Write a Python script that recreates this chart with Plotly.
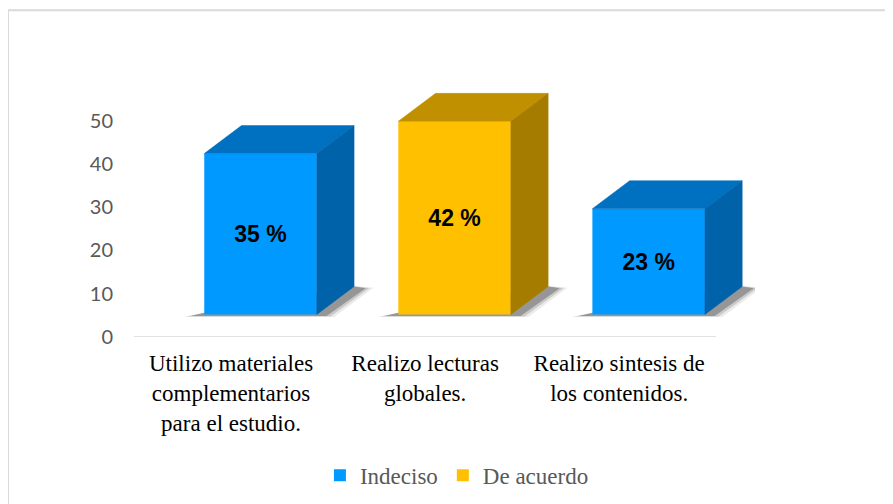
import plotly.graph_objects as go

# ---- data ----
categories = ["Utilizo materiales<br>complementarios<br>para el estudio.",
              "Realizo lecturas<br>globales.",
              "Realizo sintesis de<br>los contenidos."]
values = [35, 42, 23]
series = ["Indeciso", "De acuerdo", "Indeciso"]
labels = ["35 %", "42 %", "23 %"]
y_ticks = [0, 10, 20, 30, 40, 50]

# ---- style / pseudo-3D geometry ----
FLOOR = 5.2          # floor level of the bars (axis units)
SCALE = 1.0626       # visual height per value unit
OFFSET = -0.138      # left edge of front face relative to category
WIDTH = 0.58         # front face width
DX = 0.192           # depth offset x (category units)
DY = 6.47            # depth offset y (axis units)

colors = {
    "Indeciso": {"front": "#0099FF", "top": "#0070C0", "side": "#0062A8"},
    "De acuerdo": {"front": "#FFC000", "top": "#C09000", "side": "#A67C00"},
}

fig = go.Figure()

# front faces as bars (one trace per series for the legend)
for name in ["Indeciso", "De acuerdo"]:
    idx = [i for i, s in enumerate(series) if s == name]
    fig.add_trace(go.Bar(
        name=name,
        x=idx,
        y=[values[i] * SCALE for i in idx],
        base=FLOOR,
        width=WIDTH,
        offset=OFFSET,
        marker=dict(color=colors[name]["front"], line=dict(width=0)),
        text=[labels[i] for i in idx],
        textposition="inside",
        insidetextanchor="middle",
        textangle=0,
        textfont=dict(family="Liberation Sans, Arial", size=23, color="black", weight="bold"),
        hoverinfo="skip",
    ))

shapes = []
for i, v in enumerate(values):
    L = i + OFFSET
    R = L + WIDTH
    top = FLOOR + v * SCALE
    c = colors[series[i]]
    # top face
    fig.add_trace(go.Scatter(
        x=[L, R, R + DX, L + DX, L], y=[top, top, top + DY, top + DY, top],
        mode="lines", fill="toself", fillcolor=c["top"], cliponaxis=False,
        line=dict(color=c["top"], width=0.5), showlegend=False, hoverinfo="skip"))
    # side face
    fig.add_trace(go.Scatter(
        x=[R, R + DX, R + DX, R, R], y=[FLOOR, FLOOR + DY, top + DY, top, FLOOR],
        mode="lines", fill="toself", fillcolor=c["side"], cliponaxis=False,
        line=dict(color=c["side"], width=0.5), showlegend=False, hoverinfo="skip"))
    # floor shadow (layers for a soft look)
    for g, alpha in [(0.04, 0.08), (0.02, 0.14), (0.0, 0.25)]:
        p = [(L - 0.07 - g, FLOOR - 0.35 - g * 6),
             (R + 0.05 + g, FLOOR - 0.35 - g * 6),
             (R + DX + 0.06 + g, FLOOR + DY - 0.4 + g * 3),
             (R + DX, FLOOR + DY + g * 3),
             (L, FLOOR + 0.4)]
        path = "M " + " L ".join(f"{a},{b}" for a, b in p) + " Z"
        shapes.append(dict(type="path", path=path, xref="x", yref="y",
                           fillcolor=f"rgba(0,0,0,{alpha})", line=dict(width=0),
                           layer="below"))

# category axis line (only across the three categories)
shapes.append(dict(type="line", xref="x", yref="y", x0=-0.5, x1=2.5, y0=0, y1=0,
                   line=dict(color="#D9D9D9", width=1.5), layer="below"))

# outer chart border
shapes.append(dict(type="rect", xref="paper", yref="paper",
                   x0=-0.203, x1=1.25, y0=-0.69, y1=1.3016,
                   line=dict(color="#D9D9D9", width=2), fillcolor="rgba(0,0,0,0)",
                   layer="below"))

fig.update_layout(
    width=885, height=496,
    margin=dict(l=126, r=138, t=78, b=167, autoexpand=False),
    plot_bgcolor="white", paper_bgcolor="white",
    barmode="overlay",
    shapes=shapes,
    showlegend=True,
    legend=dict(orientation="h", x=0.52, xanchor="center", y=-0.551, yanchor="middle",
                font=dict(family="Liberation Serif, Times New Roman", size=23, color="#595959"),
                itemwidth=30, bgcolor="rgba(0,0,0,0)"),
    xaxis=dict(range=[-0.5, 2.7], tickvals=[0, 1, 2], ticktext=categories,
               showgrid=False, zeroline=False, showline=False,
               ticks="", ticklabelstandoff=10,
               tickfont=dict(family="Liberation Serif, Times New Roman", size=23, color="black")),
    yaxis=dict(range=[0, 58], tickvals=y_ticks, showgrid=False, zeroline=False,
               showline=False, ticks="", ticklabelstandoff=20,
               tickfont=dict(family="Lato, Calibri", size=20, color="#595959")),
)

fig.write_html("out.html")
